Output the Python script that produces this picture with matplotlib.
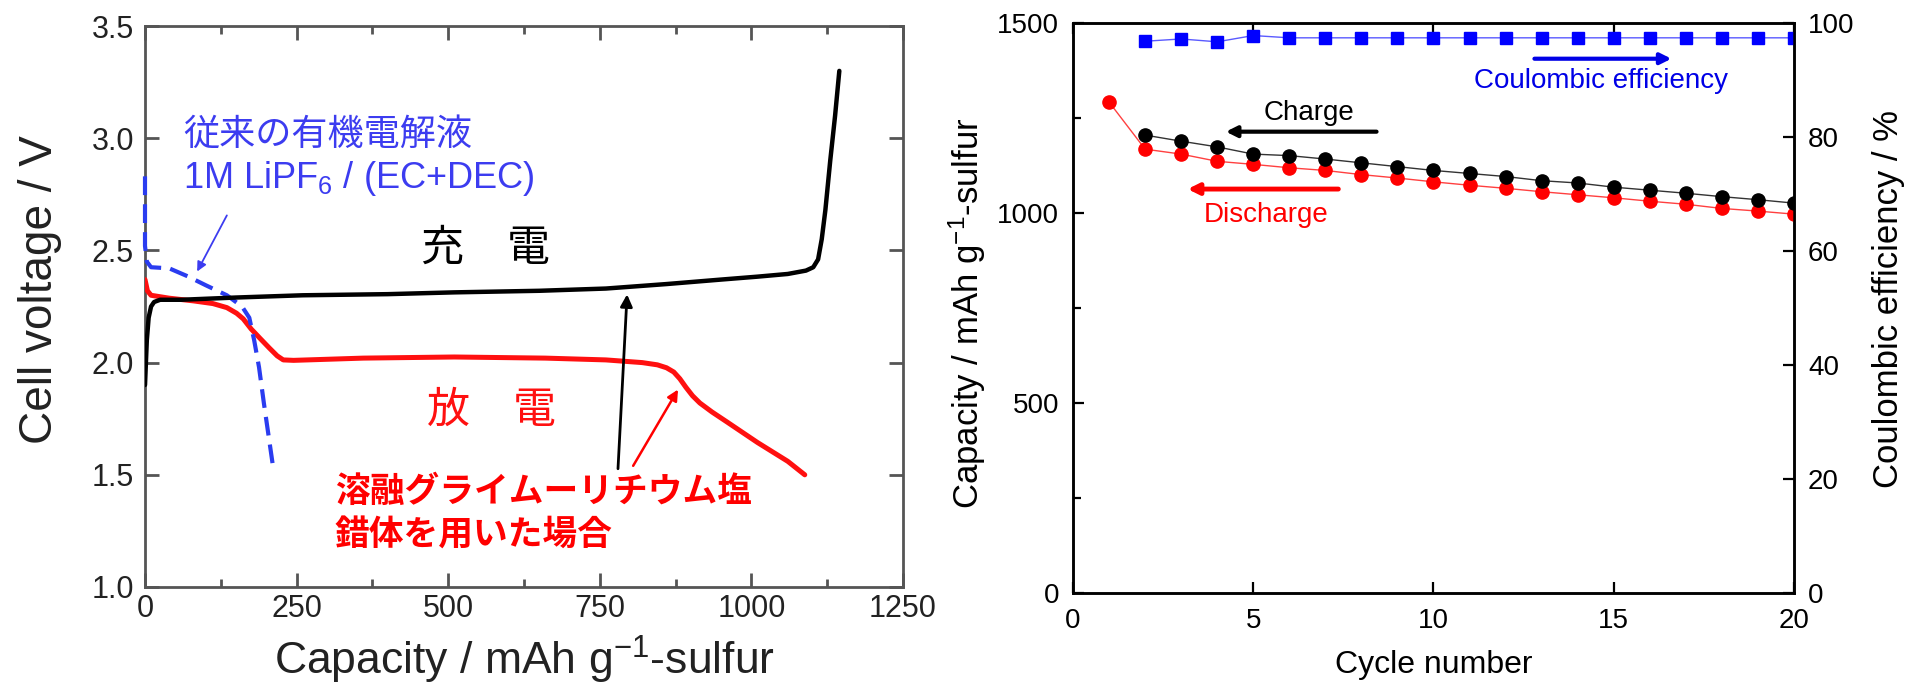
import matplotlib
matplotlib.use("Agg")
import matplotlib.pyplot as plt
from matplotlib.ticker import MultipleLocator, FormatStrFormatter

plt.rcParams['font.family'] = ['Liberation Sans', 'Noto Sans CJK JP', 'DejaVu Sans']
plt.rcParams['mathtext.fontset'] = 'custom'
plt.rcParams['mathtext.rm'] = 'Liberation Sans'
plt.rcParams['mathtext.it'] = 'Liberation Sans:italic'
plt.rcParams['mathtext.bf'] = 'Liberation Sans:bold'

# ---------------- Left panel data (voltage profiles) ----------------
charge_cap = [0, 3, 6, 10, 15, 25, 60, 150, 260, 400, 510, 650, 760, 860, 950,
              1010, 1060, 1090, 1102, 1110, 1116, 1122, 1130, 1138, 1145]
charge_v = [1.90, 2.10, 2.20, 2.25, 2.27, 2.28, 2.28, 2.29, 2.30, 2.305, 2.313,
            2.32, 2.33, 2.35, 2.37, 2.383, 2.395, 2.41, 2.425, 2.46, 2.55, 2.68,
            2.90, 3.10, 3.30]

dis_cap = [0, 4, 10, 40, 80, 112, 135, 151, 162, 175, 189, 205, 218, 228, 245,
           360, 510, 660, 760, 820, 845, 860, 872, 882, 892, 903, 915, 935, 960,
           1010, 1060, 1088]
dis_v = [2.37, 2.32, 2.30, 2.287, 2.275, 2.263, 2.245, 2.22, 2.195, 2.15, 2.11,
         2.065, 2.03, 2.012, 2.01, 2.02, 2.025, 2.02, 2.012, 2.0, 1.99, 1.977,
         1.958, 1.928, 1.89, 1.852, 1.82, 1.78, 1.735, 1.644, 1.56, 1.50]

org_cap = [0, 0, 3, 10, 40, 70, 100, 135, 160, 172, 180, 188, 196, 204, 212]
org_v = [2.83, 2.52, 2.45, 2.425, 2.42, 2.385, 2.345, 2.30, 2.25, 2.20, 2.10,
         1.98, 1.82, 1.67, 1.52]

left_xticks = [0, 250, 500, 750, 1000, 1250]
left_yticks = [1.0, 1.5, 2.0, 2.5, 3.0, 3.5]

# ---------------- Right panel data (cycling) ----------------
cycles_charge = list(range(2, 21))
charge_capacity = [1205, 1189, 1174, 1155, 1151, 1142, 1132, 1122, 1112, 1104,
                   1096, 1085, 1079, 1068, 1060, 1052, 1043, 1035, 1026]
cycles_dis = list(range(1, 21))
discharge_capacity = [1292, 1168, 1155, 1136, 1128, 1119, 1112, 1101, 1092, 1082,
                      1073, 1065, 1056, 1048, 1040, 1031, 1023, 1012, 1005, 997]
cycles_ce = list(range(2, 21))
coulombic_eff = [96.8, 97.2, 96.7, 97.8, 97.4, 97.4, 97.4, 97.4, 97.4, 97.4,
                 97.4, 97.4, 97.4, 97.4, 97.4, 97.4, 97.4, 97.4, 97.4]

right_xticks = [0, 5, 10, 15, 20]
right_yticks = [0, 500, 1000, 1500]
right_y2ticks = [0, 20, 40, 60, 80, 100]

W, H = 1906, 694
fig = plt.figure(figsize=(W / 100, H / 100), dpi=100)

# ================= LEFT =================
axL = fig.add_axes([145 / W, 1 - 587 / H, 758 / W, 561 / H])
axL.plot(charge_cap, charge_v, color='black', lw=3.2, solid_capstyle='round',
         solid_joinstyle='round', zorder=4)
axL.plot(dis_cap, dis_v, color='#ff1010', lw=3.6, solid_capstyle='round',
         solid_joinstyle='round', zorder=3)
axL.plot(org_cap, org_v, color='#2a3cf0', lw=3, dashes=(4.5, 2.2), zorder=3,
         clip_on=False)
axL.set_xlim(0, 1250)
axL.set_ylim(1.0, 3.5)
axL.set_xticks(left_xticks)
axL.set_yticks(left_yticks)
axL.xaxis.set_minor_locator(MultipleLocator(125))
axL.yaxis.set_major_formatter(FormatStrFormatter('%.1f'))
grey = '#555555'
for s in axL.spines.values():
    s.set_color(grey)
    s.set_linewidth(2.0)
axL.tick_params(which='both', direction='in', top=True, right=True, color=grey,
                width=2, labelcolor='#222222', labelsize=22)
axL.tick_params(which='major', length=10)
axL.tick_params(which='minor', length=6)
axL.tick_params(axis='x', pad=5)
axL.tick_params(axis='y', pad=8)
axL.set_xlabel(r'Capacity / mAh g$^{-1}$-sulfur', fontsize=32, color='#222222')
axL.xaxis.label.set_va('baseline')
axL.xaxis.set_label_coords(0.5, (587 - 675) / 561)
axL.set_ylabel('Cell voltage / V', fontsize=33, color='#222222')
axL.yaxis.label.set_va('baseline')
axL.yaxis.set_label_coords((52 - 145) / 758, (587 - 290) / 561)

cjk = ['Noto Sans CJK JP', 'DejaVu Sans']
blue_t = '#3c3cf0'
axL.text(62.7, 2.971, '従来の有機電解液', fontsize=26, color=blue_t, family=cjk,
         va='baseline', ha='left')
axL.text(62.7, 2.777, r'1M LiPF$_6$ / (EC+DEC)', fontsize=26, color=blue_t,
         va='baseline', ha='left')
axL.annotate('', xy=(86, 2.406), xytext=(135, 2.656),
             arrowprops=dict(arrowstyle='-|>', color=blue_t, lw=1.3,
                             mutation_scale=14, shrinkA=0, shrinkB=0))
axL.text(561, 2.455, '充\u3000電', fontsize=31, color='black', family=cjk,
         va='baseline', ha='center')
axL.text(572, 1.732, '放\u3000電', fontsize=31, color='#ff1010', family=cjk,
         va='baseline', ha='center')
axL.text(313, 1.3795, '溶融グライムーリチウム塩', fontsize=25, color='#ff0000',
         family=cjk, weight='bold', va='baseline', ha='left')
axL.text(313, 1.183, '錯体を用いた場合', fontsize=25, color='#ff0000',
         family=cjk, weight='bold', va='baseline', ha='left')
axL.annotate('', xy=(795, 2.304), xytext=(780, 1.527),
             arrowprops=dict(arrowstyle='-|>', color='black', lw=2,
                             mutation_scale=18, shrinkA=0, shrinkB=0))
axL.annotate('', xy=(879, 1.88), xytext=(805, 1.54),
             arrowprops=dict(arrowstyle='-|>', color='#ff0000', lw=1.8,
                             mutation_scale=16, shrinkA=0, shrinkB=0))

# ================= RIGHT =================
axR = fig.add_axes([1073 / W, 1 - 593 / H, 721 / W, 570 / H])
axR2 = axR.twinx()
axR.plot(cycles_dis, discharge_capacity, color='#ff4040', lw=1, marker='o', ms=9.5,
         mfc='#ff0000', mec='#ff0000', zorder=3)
axR.plot(cycles_charge, charge_capacity, color='#333333', lw=1, marker='o', ms=9.5,
         mfc='black', mec='black', zorder=4)
axR2.plot(cycles_ce, coulombic_eff, color='#5a5aff', lw=1, marker='s', ms=9,
          mfc='#0000ff', mec='#0000ff')
axR.set_xlim(0, 20)
axR.set_ylim(0, 1500)
axR2.set_ylim(0, 100)
axR.set_xticks(right_xticks)
axR.set_yticks(right_yticks)
axR2.set_yticks(right_y2ticks)
axR.yaxis.set_minor_locator(MultipleLocator(250))
for a in (axR, axR2):
    for s in a.spines.values():
        s.set_color('black')
        s.set_linewidth(1.8)
axR.tick_params(which='both', direction='in', top=True, right=False, width=1.6,
                labelsize=20, pad=10)
axR.tick_params(which='major', length=8)
axR.tick_params(which='minor', length=6)
axR.tick_params(axis='x', pad=11)
axR2.tick_params(which='both', direction='in', width=1.6, length=8, labelsize=20, pad=10)

axR.set_xlabel('Cycle number', fontsize=23)
axR.xaxis.label.set_va('baseline')
axR.xaxis.set_label_coords(0.5, (593 - 673) / 570)
axR.set_ylabel(r'Capacity / mAh g$^{-1}$-sulfur', fontsize=25)
axR.yaxis.label.set_va('baseline')
axR.yaxis.set_label_coords((979 - 1073) / 721, 0.49)
axR2.set_ylabel('Coulombic efficiency / %', fontsize=25)
axR2.yaxis.label.set_va('baseline')
axR2.yaxis.set_label_coords((1898 - 1073) / 721, 0.515)

axR.text(6.54, 1244, 'Charge', fontsize=20, color='black', ha='center', va='baseline')
axR.annotate('', xy=(4.24, 1214), xytext=(8.42, 1214),
             arrowprops=dict(arrowstyle='-|>', color='black', lw=3,
                             mutation_scale=16, shrinkA=0, shrinkB=0))
axR.text(5.37, 977, 'Discharge', fontsize=20, color='#ff0000', ha='center', va='baseline')
axR.annotate('', xy=(3.18, 1063), xytext=(7.36, 1063),
             arrowprops=dict(arrowstyle='-|>', color='#ff0000', lw=3.5,
                             mutation_scale=16, shrinkA=0, shrinkB=0))
axR.text(14.64, 1328, 'Coulombic efficiency', fontsize=20, color='#0000e6',
         ha='center', va='baseline')
axR.annotate('', xy=(16.6, 1406), xytext=(12.8, 1406),
             arrowprops=dict(arrowstyle='-|>', color='#0000e6', lw=3,
                             mutation_scale=16, shrinkA=0, shrinkB=0))

fig.savefig('out.png', dpi=100)
